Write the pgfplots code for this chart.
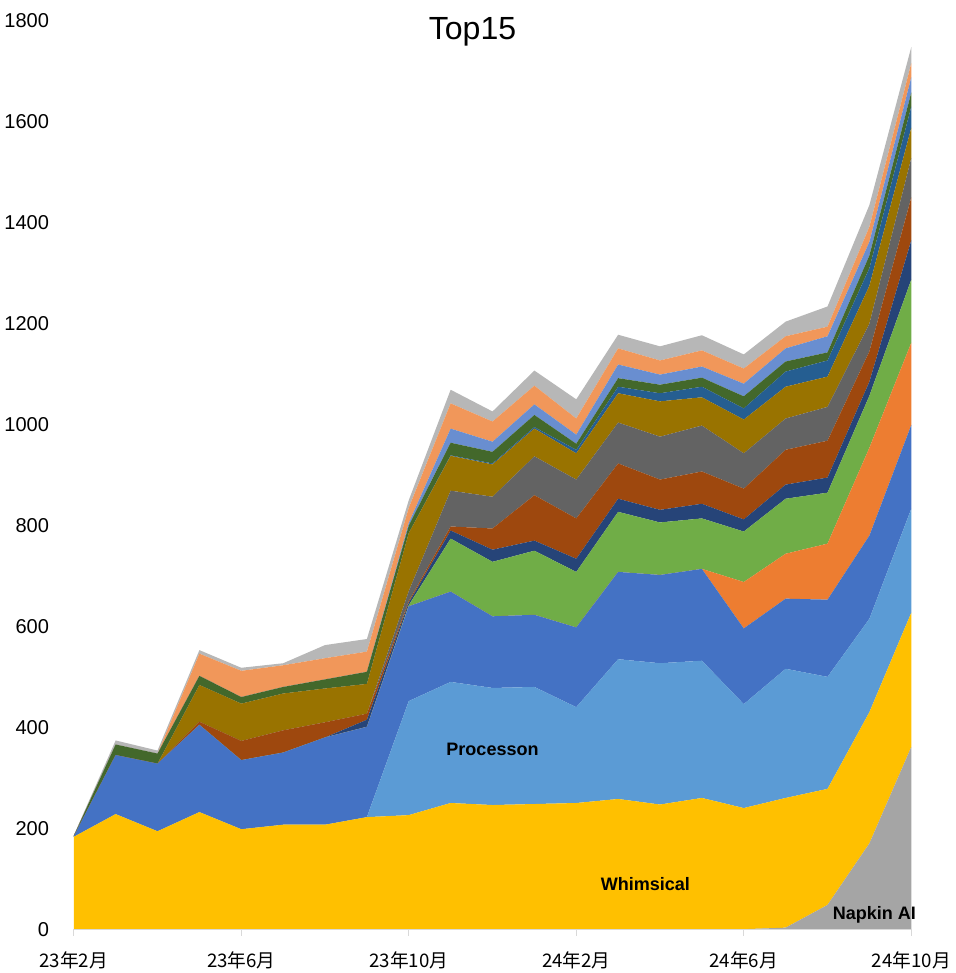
\documentclass[border=0pt]{standalone}
\usepackage{pgfplots}
\pgfplotsset{compat=1.18}
\usepackage{pgfplotstable}
\usepackage{fontspec}
\setmainfont{Liberation Sans}
\newfontfamily\cjk{Noto Sans CJK SC}

% Excel palette
\definecolor{cN}{HTML}{A5A5A5}
\definecolor{cW}{HTML}{FFC000}
\definecolor{cP}{HTML}{5B9BD5}
\definecolor{cB}{HTML}{4472C4}
\definecolor{cO}{HTML}{ED7D31}
\definecolor{cG}{HTML}{70AD47}
\definecolor{cDB}{HTML}{264478}
\definecolor{cBR}{HTML}{9E480E}
\definecolor{cDG}{HTML}{636363}
\definecolor{cOL}{HTML}{997300}
\definecolor{cDBb}{HTML}{255E91}
\definecolor{cDGr}{HTML}{43682B}
\definecolor{cLB}{HTML}{698ED0}
\definecolor{cLO}{HTML}{F1975A}
\definecolor{cLG}{HTML}{B7B7B7}

% months since 23/02, one column per tool, bottom to top
\pgfplotstableread{
m  N   W   P   B   O   G   DB BR DG OL  DBb DGr LB LO LG
0  0   183 0   1   0   0   0  0  0  0   0   1   0  0  1
1  0   228 0   117 0   0   0  0  0  0   0   21  0  0  8
2  0   194 0   134 0   0   0  0  0  0   0   20  0  0  6
3  0   232 0   173 0   0   0  6  0  73  0   18  0  44 7
4  0   198 0   137 0   0   0  38 0  74  0   13  0  52 6
5  0   207 0   143 0   0   0  44 0  73  0   13  0  43 4
6  0   207 0   173 0   0   0  30 0  67  0   18  0  42 26
7  0   222 0   179 0   0   14 12 0  59  0   24  0  40 25
8  0   226 226 188 0   2   5  3  20 115 0   15  5  30 15
9  0   250 240 179 0   105 16 8  71 69  1   25  28 50 27
10 0   246 232 142 0   108 24 42 63 64  2   23  20 40 20
11 0   248 232 143 0   127 20 90 77 55  3   24  21 37 30
12 0   250 190 158 0   110 26 80 77 52  7   12  18 32 38
13 0   258 277 173 0   119 26 70 81 58  13  17  27 32 27
14 0   247 280 175 0   104 25 60 85 70  16  17  20 28 28
15 0   260 272 182 0   100 29 64 91 56  21  18  22 32 30
16 0   240 206 150 92  100 24 61 70 67  22  24  25 30 28
17 3   257 256 139 89  109 28 69 62 63  30  20  26 24 29
18 48  230 222 153 111 101 30 73 67 60  32  16  32 19 40
19 170 260 185 165 174 103 28 60 55 75  35  25  27 30 43
20 361 266 206 166 163 125 78 85 78 60  42  28  30 28 32
}\data

\begin{document}
\begin{tikzpicture}
\begin{axis}[
  scale only axis,
  width=627pt, height=680pt,
  stack plots=y, area style,
  xmin=0, xmax=20, ymin=0, ymax=1800,
  enlargelimits=false,
  axis lines*=left,
  y axis line style={draw=none},
  x axis line style={draw=black!15, line width=0.8pt},
  ytick={0,200,...,1800},
  ytick style={draw=none},
  xtick={0,4,8,12,16,20},
  xticklabels={23年2月,23年6月,23年10月,24年2月,24年6月,24年10月},
  xtick style={draw=black!15, line width=0.8pt},
  tick align=outside, major tick length=5pt,
  /pgf/number format/assume math mode=true,
  /pgf/number format/1000 sep={},
  yticklabel style={font=\fontsize{15}{17}\selectfont, xshift=-10pt},
  xticklabel style={font=\cjk\fontsize{14}{16}\selectfont, yshift=-8pt},
  title={Top15},
  title style={font=\fontsize{24}{26}\selectfont, at={(0.5,1)}, anchor=center, xshift=-15pt, yshift=-14pt},
]
\addplot[fill=cN, draw=none] table[x=m, y=N] {\data} \closedcycle;
\addplot[fill=cW, draw=none] table[x=m, y=W] {\data} \closedcycle;
\addplot[fill=cP, draw=none] table[x=m, y=P] {\data} \closedcycle;
\addplot[fill=cB, draw=none] table[x=m, y=B] {\data} \closedcycle;
\addplot[fill=cO, draw=none] table[x=m, y=O] {\data} \closedcycle;
\addplot[fill=cG, draw=none] table[x=m, y=G] {\data} \closedcycle;
\addplot[fill=cDB, draw=none] table[x=m, y=DB] {\data} \closedcycle;
\addplot[fill=cBR, draw=none] table[x=m, y=BR] {\data} \closedcycle;
\addplot[fill=cDG, draw=none] table[x=m, y=DG] {\data} \closedcycle;
\addplot[fill=cOL, draw=none] table[x=m, y=OL] {\data} \closedcycle;
\addplot[fill=cDBb, draw=none] table[x=m, y=DBb] {\data} \closedcycle;
\addplot[fill=cDGr, draw=none] table[x=m, y=DGr] {\data} \closedcycle;
\addplot[fill=cLB, draw=none] table[x=m, y=LB] {\data} \closedcycle;
\addplot[fill=cLO, draw=none] table[x=m, y=LO] {\data} \closedcycle;
\addplot[fill=cLG, draw=none] table[x=m, y=LG] {\data} \closedcycle;

\coordinate (lp) at (axis cs:10,357);
\coordinate (lw) at (axis cs:13.65,89);
\coordinate (ln) at (axis cs:19.12,29);
\end{axis}
\node[font=\bfseries\fontsize{13.5}{15}\selectfont] at (lp) {Processon};
\node[font=\bfseries\fontsize{13.5}{15}\selectfont] at (lw) {Whimsical};
\node[font=\bfseries\fontsize{13.5}{15}\selectfont] at (ln) {Napkin AI};
% a little white space above, as in the reference
\path (current bounding box.north) ++(0,7pt);
\end{tikzpicture}
\end{document}
